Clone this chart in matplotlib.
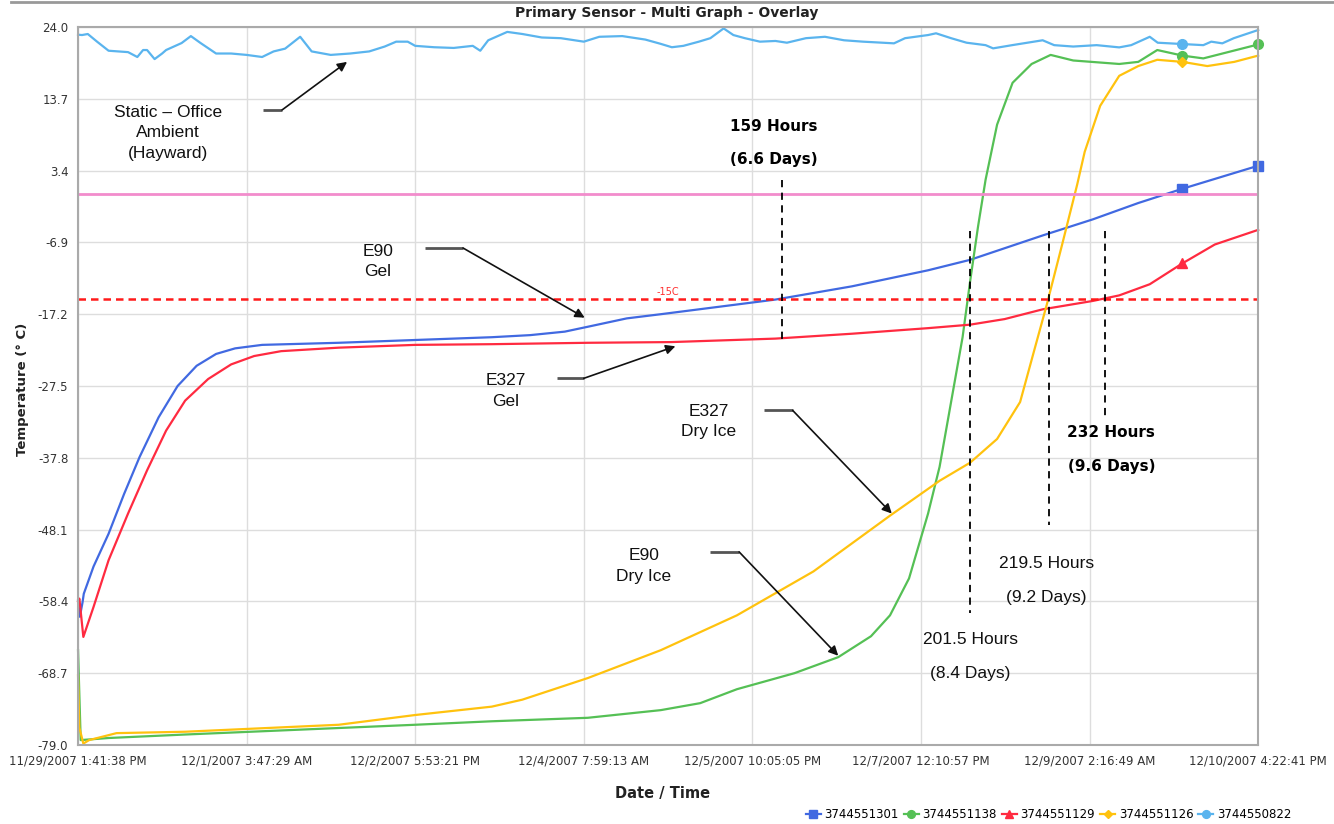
from datetime import datetime
import matplotlib.pyplot as plt
from matplotlib.lines import Line2D

# time axis labels, the first one is the logging start
x_tick_labels = ['11/29/2007 1:41:38 PM', '12/1/2007 3:47:29 AM', '12/2/2007 5:53:21 PM',
                 '12/4/2007 7:59:13 AM', '12/5/2007 10:05:05 PM', '12/7/2007 12:10:57 PM',
                 '12/9/2007 2:16:49 AM', '12/10/2007 4:22:41 PM']
y_ticks = [24.0, 13.7, 3.4, -6.9, -17.2, -27.5, -37.8, -48.1, -58.4, -68.7, -79.0]

# hours since start / temperature in deg C
hours_1301 = [0, 0.4, 1.0, 1.3, 3.5, 6.9, 10.4, 13.9, 18.2, 22.5, 26.8, 31.2, 35.5, 41.6, 58.9,
              76.2, 93.5, 102.2, 110.0, 115.2, 124.0, 131.7, 157.6, 174.9, 192.1, 201.6, 218.0,
              229.3, 239.6, 249.6, 266.7]
temps_1301 = [-58.3, -60.6, -58.6, -57.3, -53.4, -48.7, -43.0, -37.7, -32.0, -27.5, -24.6, -22.9,
              -22.1, -21.6, -21.3, -20.9, -20.5, -20.2, -19.7, -19.0, -17.8, -17.2, -15.1, -13.2,
              -10.9, -9.4, -5.9, -3.6, -1.25, 0.8, 4.1]

hours_1138 = [0, 0.6, 6.9, 24.2, 50.2, 76.2, 93.5, 115.2, 131.7, 140.6, 148.9, 161.9, 171.8, 179.2,
              183.5, 187.8, 192.1, 194.7, 197.3, 199.9, 201.6, 203.4, 205.1, 207.7, 211.2, 215.5,
              219.8, 224.9, 235.3, 239.6, 243.9, 249.6, 254.3, 266.7]
temps_1138 = [-65.4, -78.3, -78.0, -77.5, -76.8, -76.1, -75.6, -75.1, -74.0, -73.0, -71.0, -68.7,
              -66.4, -63.4, -60.4, -55.1, -45.8, -39.1, -29.8, -20.5, -12.5, -4.6, 2.1, 10.0, 16.0,
              18.7, 20.0, 19.2, 18.7, 19.0, 20.7, 19.9, 19.5, 21.5]

hours_1129 = [0, 0.3, 1.2, 3.5, 6.9, 11.3, 15.6, 19.9, 24.2, 29.4, 34.6, 39.8, 45.9, 58.9, 76.2,
              93.5, 115.2, 134.0, 157.6, 174.9, 192.1, 201.6, 209.4, 218.0, 229.3, 235.3, 242.2,
              249.6, 256.9, 266.7]
temps_1129 = [-58.4, -58.0, -63.5, -59.2, -52.5, -45.8, -39.6, -33.9, -29.6, -26.5, -24.4, -23.2,
              -22.5, -22.0, -21.6, -21.5, -21.3, -21.2, -20.7, -20.0, -19.2, -18.7, -17.9, -16.5,
              -15.3, -14.5, -12.9, -9.9, -7.2, -5.1]

hours_1126 = [0, 0.3, 1.2, 2.5, 8.7, 24.2, 58.9, 76.2, 93.5, 100.4, 115.2, 131.7, 148.9, 166.2,
              183.5, 194.7, 201.6, 207.7, 212.9, 216.3, 218.9, 222.4, 225.8, 227.5, 231.0, 235.3,
              239.6, 243.9, 249.6, 255.2, 261.3, 266.7]
temps_1126 = [-69.0, -76.5, -78.8, -78.3, -77.3, -77.1, -76.1, -74.7, -73.5, -72.5, -69.4, -65.4,
              -60.4, -54.1, -46.1, -41.1, -38.5, -35.1, -29.8, -21.9, -15.9, -7.2, 1.4, 6.1, 12.7,
              17.0, 18.4, 19.3, 19.0, 18.4, 19.0, 19.9]

hours_0822 = [0, 0.9, 2.2, 4.3, 6.9, 11.3, 13.4, 14.7, 15.6, 17.3, 19.0, 19.9, 23.4, 25.5, 27.7,
              31.2, 34.6, 38.1, 41.6, 44.2, 46.8, 50.2, 52.8, 57.1, 61.5, 65.8, 69.3, 71.9, 74.5,
              76.2, 80.5, 84.9, 89.2, 90.9, 92.7, 97.0, 100.4, 104.8, 109.1, 114.3, 117.8, 123.0,
              128.2, 131.6, 134.2, 136.8, 140.3, 142.9, 145.9, 148.1, 150.7, 154.1, 157.6, 160.2,
              164.5, 168.8, 173.1, 177.4, 181.8, 184.4, 186.9, 192.1, 193.9, 197.3, 200.8, 205.1,
              206.8, 211.1, 218.0, 220.6, 224.9, 230.2, 235.3, 238.0, 242.2, 244.0, 249.6, 254.3,
              256.1, 258.6, 261.2, 266.7]
temps_0822 = [22.9, 22.85, 23.0, 21.9, 20.6, 20.4, 19.7, 20.7, 20.7, 19.4, 20.2, 20.7, 21.7, 22.7,
              21.7, 20.2, 20.2, 20.0, 19.7, 20.5, 20.9, 22.6, 20.5, 20.0, 20.2, 20.5, 21.2, 21.9,
              21.9, 21.3, 21.1, 21.0, 21.3, 20.6, 22.1, 23.3, 23.0, 22.5, 22.4, 21.9, 22.6, 22.7,
              22.2, 21.6, 21.1, 21.3, 21.9, 22.4, 23.8, 22.85, 22.4, 21.9, 22.0, 21.75, 22.4, 22.6,
              22.1, 21.9, 21.75, 21.66, 22.4, 22.85, 23.1, 22.4, 21.75, 21.4, 20.94, 21.4, 22.1,
              21.4, 21.2, 21.4, 21.08, 21.4, 22.6, 21.75, 21.56, 21.4, 21.9, 21.66, 22.4, 23.57]

freeze_line = 0.0
alarm_line = -15.0
MARK_HOUR = 249.6

fmt = '%m/%d/%Y %I:%M:%S %p'
t0 = datetime.strptime(x_tick_labels[0], fmt)
x_ticks = [(datetime.strptime(s, fmt) - t0).total_seconds() / 3600 for s in x_tick_labels]

fig = plt.figure(figsize=(13.34, 8.24), dpi=100)
ax = fig.add_axes([0.0585, 0.0959, 0.8846, 0.8713])

series = [
    (hours_1301, temps_1301, '3744551301', '#4169e1', 's', True),
    (hours_1138, temps_1138, '3744551138', '#55c055', 'o', True),
    (hours_1129, temps_1129, '3744551129', '#ff2a40', '^', False),
    (hours_1126, temps_1126, '3744551126', '#ffc20e', 'D', False),
    (hours_0822, temps_0822, '3744550822', '#5ab4ee', 'o', False),
]
for hrs, temps, name, color, marker, mark_end in series:
    marks = [hrs.index(MARK_HOUR)]
    if mark_end:
        marks.append(len(hrs) - 1)
    ax.plot(hrs, temps, color=color, lw=1.6, marker=marker, ms=7 if marker != 'D' else 5.5,
            markevery=marks, label=name, clip_on=False)

ax.axhline(freeze_line, color='#f28ccc', lw=2)
ax.axhline(alarm_line, color='#ff1a1a', lw=1.8, ls=(0, (3, 2)))
ax.text(133.3, -14.0, '-15C', color='#ff3030', fontsize=7, ha='center', va='center')

ax.set_xlim(x_ticks[0], x_ticks[-1])
ax.set_ylim(y_ticks[-1], y_ticks[0])
ax.set_xticks(x_ticks)
ax.set_xticklabels(x_tick_labels)
ax.set_yticks(y_ticks)
ax.set_yticklabels([f'{v:.1f}' for v in y_ticks])
ax.tick_params(length=0, labelsize=8.5, labelcolor='#333333', pad=7)
ax.grid(True, color='#dddddd', lw=1)
ax.set_axisbelow(True)
for sp in ax.spines.values():
    sp.set_color('#aaaaaa')
    sp.set_linewidth(1.5)

# dashed markers where each pack passes -15C
for h, top, bottom in [(159, 2.0, -21.0), (201.5, -5.2, -60.1), (219.5, -5.2, -47.4), (232, -5.2, -31.8)]:
    ax.plot([h, h], [top, bottom], color='black', lw=1.3, ls=(0, (4, 3)))

bold = dict(fontsize=11, fontweight='bold', ha='center', va='center')
ax.text(157.2, 9.8, '159 Hours', **bold)
ax.text(157.2, 5.0, '(6.6 Days)', **bold)
ax.text(233.5, -34.2, '232 Hours', **bold)
ax.text(233.5, -39.0, '(9.6 Days)', **bold)

plain = dict(fontsize=12.5, family='Liberation Sans', ha='center', va='center', color='#111111')
ax.text(218.8, -53.0, '219.5 Hours', **plain)
ax.text(218.8, -57.8, '(9.2 Days)', **plain)
ax.text(201.7, -63.9, '201.5 Hours', **plain)
ax.text(201.7, -68.7, '(8.4 Days)', **plain)


def callout(label, pos, x0, x1, y, tip):
    ax.text(pos[0], pos[1], label, multialignment='center', linespacing=1.45, **plain)
    ax.plot([x0, x1], [y, y], color='#555555', lw=2, solid_capstyle='butt')
    ax.annotate('', xy=tip, xytext=(x1, y),
                arrowprops=dict(arrowstyle='-|>', color='#111111', lw=1.2,
                                mutation_scale=14, shrinkA=0, shrinkB=0))


callout('Static \u2013 Office\nAmbient\n(Hayward)', (20.3, 8.8), 41.8, 46.1, 12.1, (60.8, 19.0))
callout('E90\nGel', (67.8, -9.6), 78.4, 87.0, -7.7, (114.5, -17.7))
callout('E327\nGel', (96.7, -28.2), 108.2, 114.3, -26.4, (135.0, -21.8))
callout('E327\nDry Ice', (142.5, -32.6), 155.0, 161.5, -31.0, (183.9, -45.8))
callout('E90\nDry Ice', (127.9, -53.35), 142.9, 149.4, -51.3, (171.8, -66.2))

fig.text(0.5, 0.984, 'Primary Sensor - Multi Graph - Overlay', fontsize=10, fontweight='bold',
         ha='center', va='center', color='#222222')
fig.add_artist(Line2D([0.008, 1.0], [0.997, 0.997], color='#999999', lw=2))
fig.text(0.0165, 0.527, 'Temperature (\u00b0 C)', rotation=90, fontsize=9.5, fontweight='bold',
         ha='center', va='center', color='#222222')
fig.text(0.497, 0.0376, 'Date / Time', fontsize=10.5, fontweight='bold', ha='center', va='center',
         color='#222222')

fig.legend(loc='center', bbox_to_anchor=(0.786, 0.011), ncol=5, frameon=False, fontsize=8.5,
           handlelength=1.3, handletextpad=0.3, columnspacing=0.4, markerscale=0.8)

fig.savefig('out.png', dpi=100, facecolor='white')
